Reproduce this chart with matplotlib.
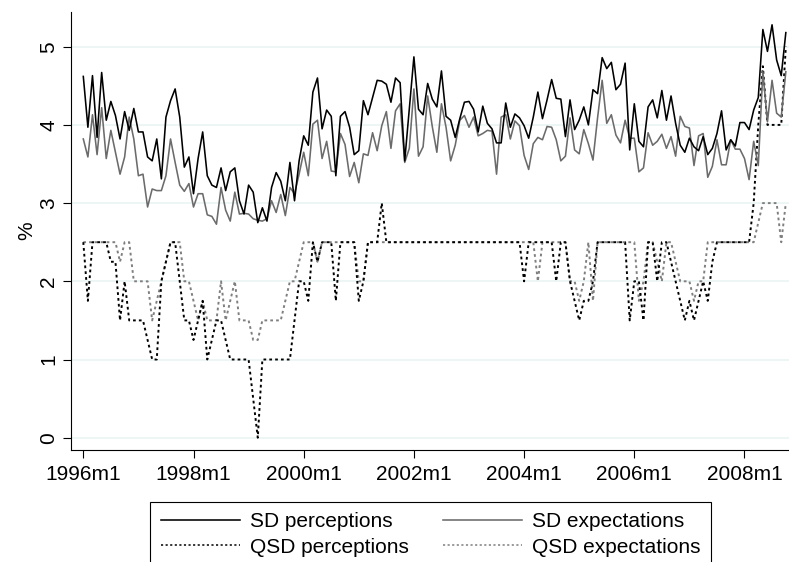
import numpy as np
import matplotlib
matplotlib.use("Agg")
import matplotlib.pyplot as plt

plt.rcParams["font.family"] = ["Liberation Sans", "DejaVu Sans"]

# Monthly dispersion measures, 1996m1 .. 2008m10
start_year = 1996
tick_years = [1996, 1998, 2000, 2002, 2004, 2006, 2008]
tick_labels = [f"{y}m1" for y in tick_years]

sd_perceptions = [
    4.62, 3.97, 4.63, 3.84, 4.67, 4.06, 4.30, 4.12, 3.82, 4.17,
    3.93, 4.21, 3.91, 3.91, 3.59, 3.54, 3.82, 3.31, 4.10, 4.31,
    4.46, 4.10, 3.46, 3.59, 3.12, 3.57, 3.91, 3.35, 3.23, 3.20,
    3.45, 3.16, 3.40, 3.45, 3.03, 2.86, 3.23, 3.14, 2.75, 2.94,
    2.77, 3.20, 3.39, 3.28, 3.03, 3.52, 3.03, 3.54, 3.86, 3.74,
    4.42, 4.60, 3.95, 4.19, 4.11, 3.35, 4.11, 4.17, 3.97, 3.62,
    3.67, 4.31, 4.13, 4.35, 4.57, 4.56, 4.52, 4.29, 4.60, 4.54,
    3.54, 4.20, 4.87, 4.20, 4.13, 4.53, 4.33, 4.23, 4.69, 4.11,
    4.06, 3.84, 4.08, 4.29, 4.30, 4.20, 3.91, 4.24, 4.02, 3.95,
    3.77, 3.77, 4.28, 3.97, 4.14, 4.09, 3.99, 3.83, 4.10, 4.42,
    4.08, 4.32, 4.58, 4.34, 4.33, 3.85, 4.32, 3.94, 4.06, 4.23,
    4.00, 4.45, 4.40, 4.86, 4.72, 4.80, 4.45, 4.52, 4.79, 3.68,
    4.27, 3.79, 3.72, 4.23, 4.32, 4.09, 4.44, 4.06, 4.37, 4.02,
    3.74, 3.65, 3.83, 3.72, 3.67, 3.85, 3.62, 3.70, 3.89, 4.18,
    3.68, 3.81, 3.73, 4.03, 4.03, 3.94, 4.19, 4.35, 5.22, 4.94,
    5.28, 4.83, 4.63, 5.18,
]

sd_expectations = [
    3.82, 3.59, 4.13, 3.62, 4.22, 3.57, 3.93, 3.65, 3.37, 3.59,
    4.10, 3.82, 3.35, 3.37, 2.95, 3.18, 3.16, 3.16, 3.35, 3.82,
    3.52, 3.23, 3.15, 3.25, 2.95, 3.12, 3.12, 2.85, 2.83, 2.73,
    3.20, 2.91, 2.77, 3.14, 2.86, 2.87, 2.86, 2.80, 2.78, 2.77,
    2.80, 3.03, 2.88, 3.11, 2.84, 3.20, 3.12, 3.37, 3.65, 3.35,
    4.01, 4.06, 3.57, 3.79, 3.41, 3.40, 3.89, 3.75, 3.34, 3.52,
    3.26, 3.63, 3.61, 3.90, 3.67, 3.99, 4.17, 3.70, 4.18, 4.27,
    3.52, 3.70, 4.46, 3.60, 3.72, 4.37, 3.98, 3.65, 4.27, 3.97,
    3.54, 3.74, 4.06, 4.12, 3.97, 4.10, 3.86, 3.89, 3.93, 3.92,
    3.37, 4.10, 4.13, 3.82, 4.05, 3.99, 3.61, 3.43, 3.76, 3.84,
    3.81, 3.98, 3.97, 3.81, 3.54, 3.60, 4.09, 3.68, 3.63, 3.94,
    3.76, 3.55, 4.09, 4.57, 4.02, 4.13, 3.87, 3.77, 4.06, 3.83,
    3.83, 3.40, 3.45, 3.90, 3.74, 3.79, 3.88, 3.70, 3.85, 3.60,
    4.11, 3.98, 3.96, 3.48, 3.86, 3.89, 3.33, 3.47, 3.81, 3.49,
    3.49, 3.81, 3.69, 3.69, 3.57, 3.30, 3.79, 3.48, 4.68, 4.04,
    4.57, 4.15, 4.10, 4.68,
]

qsd_perceptions = [
    2.5, 1.75, 2.5, 2.5, 2.5, 2.5, 2.25, 2.25, 1.5, 2.0,
    1.5, 1.5, 1.5, 1.5, 1.25, 1.0, 1.0, 2.0, 2.25, 2.5,
    2.5, 2.0, 1.5, 1.5, 1.25, 1.5, 1.75, 1.0, 1.25, 1.5,
    1.5, 1.25, 1.0, 1.0, 1.0, 1.0, 1.0, 0.5, 0.0, 1.0,
    1.0, 1.0, 1.0, 1.0, 1.0, 1.0, 1.5, 2.0, 2.0, 1.75,
    2.5, 2.25, 2.5, 2.5, 2.5, 1.75, 2.5, 2.5, 2.5, 2.5,
    1.75, 2.0, 2.5, 2.5, 2.5, 3.0, 2.5, 2.5, 2.5, 2.5,
    2.5, 2.5, 2.5, 2.5, 2.5, 2.5, 2.5, 2.5, 2.5, 2.5,
    2.5, 2.5, 2.5, 2.5, 2.5, 2.5, 2.5, 2.5, 2.5, 2.5,
    2.5, 2.5, 2.5, 2.5, 2.5, 2.5, 2.0, 2.5, 2.5, 2.5,
    2.5, 2.5, 2.5, 2.0, 2.5, 2.5, 2.0, 1.75, 1.5, 1.75,
    1.75, 2.0, 2.5, 2.5, 2.5, 2.5, 2.5, 2.5, 2.5, 1.5,
    2.0, 2.0, 1.5, 2.5, 2.5, 2.0, 2.5, 2.5, 2.25, 2.0,
    1.75, 1.5, 1.75, 1.5, 1.75, 2.0, 1.75, 2.25, 2.5, 2.5,
    2.5, 2.5, 2.5, 2.5, 2.5, 2.5, 3.0, 4.0, 4.75, 4.0,
    4.0, 4.0, 4.0, 5.0,
]

qsd_expectations = [
    2.5, 2.5, 2.5, 2.5, 2.5, 2.5, 2.5, 2.5, 2.25, 2.5,
    2.5, 2.0, 2.0, 2.0, 2.0, 1.5, 1.75, 2.0, 2.25, 2.5,
    2.5, 2.5, 2.0, 2.0, 1.75, 1.5, 1.75, 1.5, 1.5, 1.5,
    2.0, 1.5, 1.75, 2.0, 1.5, 1.5, 1.5, 1.25, 1.25, 1.5,
    1.5, 1.5, 1.5, 1.5, 1.75, 2.0, 2.0, 2.25, 2.5, 2.5,
    2.5, 2.25, 2.5, 2.5, 2.5, 2.5, 2.5, 2.5, 2.5, 2.5,
    2.0, 2.0, 2.5, 2.5, 2.5, 2.5, 2.5, 2.5, 2.5, 2.5,
    2.5, 2.5, 2.5, 2.5, 2.5, 2.5, 2.5, 2.5, 2.5, 2.5,
    2.5, 2.5, 2.5, 2.5, 2.5, 2.5, 2.5, 2.5, 2.5, 2.5,
    2.5, 2.5, 2.5, 2.5, 2.5, 2.5, 2.5, 2.5, 2.5, 2.0,
    2.5, 2.5, 2.5, 2.5, 2.5, 2.5, 2.0, 2.0, 1.75, 2.0,
    2.5, 1.75, 2.5, 2.5, 2.5, 2.5, 2.5, 2.5, 2.5, 2.5,
    2.5, 1.75, 2.0, 2.5, 2.5, 2.25, 2.0, 2.5, 2.5, 2.25,
    2.0, 2.0, 2.0, 1.75, 2.0, 2.0, 2.5, 2.5, 2.5, 2.5,
    2.5, 2.5, 2.5, 2.5, 2.5, 2.5, 2.5, 2.75, 3.0, 3.0,
    3.0, 3.0, 2.5, 3.0,
]

# Month index counted from 1996m1
months = np.arange(len(sd_perceptions))
tick_pos = [(y - start_year) * 12 for y in tick_years]

W, H = 789, 562
fig = plt.figure(figsize=(W / 100, H / 100), dpi=100)
ax_l, ax_r, ax_b, ax_t = 70.7, 789.0, 450.0, 12.0
ax = fig.add_axes([ax_l / W, 1 - ax_b / H, (ax_r - ax_l) / W, (ax_b - ax_t) / H])

# Data-to-pixel calibration of the plot region
px_per_month = 110.2 / 24
x0_px = 83.3
px_per_unit = 78.2
y0_px = 437.7
ax.set_xlim((ax_l - x0_px) / px_per_month, (ax_r - x0_px) / px_per_month)
ax.set_ylim((y0_px - ax_b) / px_per_unit, (y0_px - ax_t) / px_per_unit)

grid_c = "#eaf2f3"
for v in range(6):
    ax.axhline(v, color=grid_c, lw=1.1, zorder=0)

dot = (0, (1.4, 1.6))
l1, = ax.plot(months, sd_perceptions, color="black", lw=1.15, label="SD perceptions", zorder=4)
l2, = ax.plot(months, sd_expectations, color="#6b6b6b", lw=1.15, label="SD expectations", zorder=3)
l3, = ax.plot(months, qsd_perceptions, color="black", lw=1.4, ls=dot, label="QSD perceptions", zorder=2)
l4, = ax.plot(months, qsd_expectations, color="#7f7f7f", lw=1.4, ls=dot, label="QSD expectations", zorder=1)

for s in ("top", "right"):
    ax.spines[s].set_visible(False)
for s in ("left", "bottom"):
    ax.spines[s].set_linewidth(0.8)
    ax.spines[s].set_color("black")

fs = 15
ax.set_xticks(tick_pos)
ax.set_xticklabels(tick_labels, fontsize=fs)
ax.set_yticks(range(6))
ax.set_yticklabels([str(v) for v in range(6)], fontsize=fs, rotation=90, va="center")
ax.tick_params(axis="both", direction="out", length=5.5, width=0.8, color="black")
ax.tick_params(axis="x", pad=5.0)
ax.tick_params(axis="y", pad=3.5)
ax.set_ylabel("%", fontsize=fs, labelpad=2)

# Column-major fill so rows read: SD pair, then QSD pair
handles = [l1, l3, l2, l4]
leg = ax.legend(
    handles, [h.get_label() for h in handles], ncol=2, loc="upper left",
    bbox_to_anchor=(150.4 / W, 1 - 502 / H), bbox_transform=fig.transFigure,
    fontsize=fs, frameon=True, fancybox=False, framealpha=1,
    edgecolor="black", borderaxespad=0, borderpad=0.5,
    handlelength=3.8, handletextpad=0.5, columnspacing=1.6, labelspacing=0.3,
)
leg.get_frame().set_linewidth(0.8)
for line in leg.get_lines()[1::2]:
    line.set_linewidth(1.1)

fig.savefig("out.png", dpi=100)
